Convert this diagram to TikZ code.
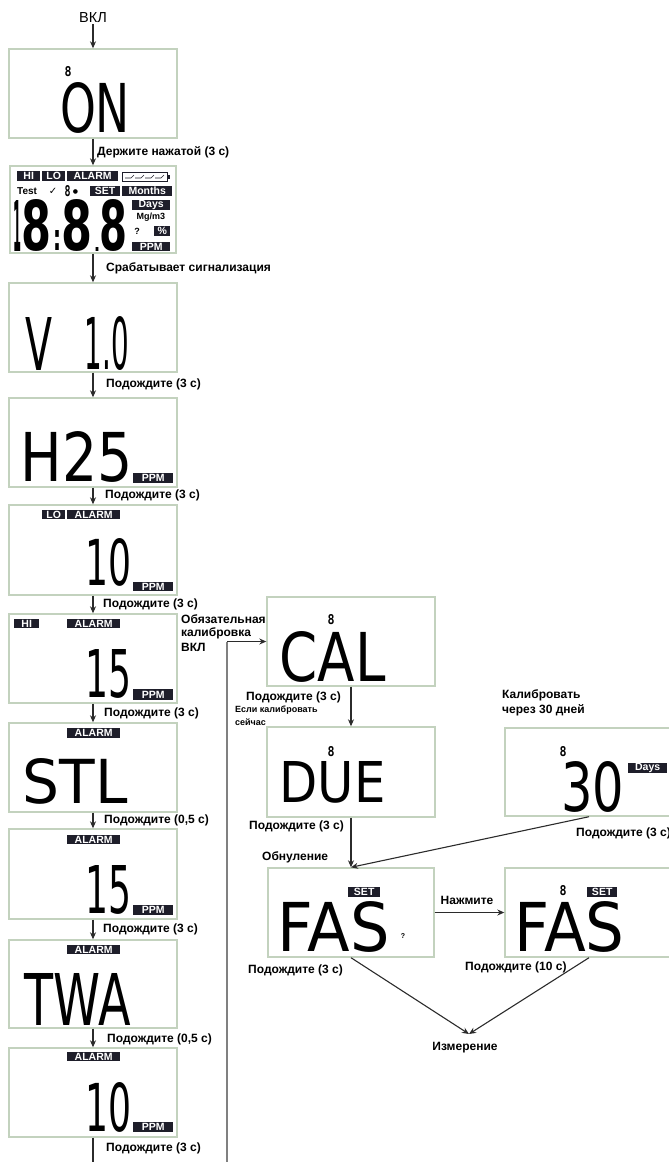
\documentclass[tikz,border=0pt]{standalone}
\usepackage{fontspec}
\usepackage{graphicx}
\setmainfont{Liberation Sans}
\newfontfamily\lcdf{DejaVu Sans}
\newfontfamily\lcdm{DejaVu Sans Mono}
\newfontfamily\djv{DejaVu Sans}
\usetikzlibrary{arrows.meta}
\definecolor{boxc}{HTML}{C3D2BE}
\definecolor{tagc}{HTML}{1E1E2A}
\definecolor{linec}{HTML}{2B2B2B}
\tikzset{
 lcdbox/.style={draw=boxc, line width=1.4pt, fill=white, inner sep=0},
 tagbox/.style={fill=tagc, text=white, font=\bfseries\fontsize{10.5}{10.5}\selectfont, inner sep=0},
 lbl/.style={font=\bfseries\fontsize{12}{12}\selectfont, inner sep=0, anchor=west, text=black},
 sml/.style={font=\bfseries\fontsize{9}{10}\selectfont, inner sep=0, anchor=west},
 conn/.style={draw=linec, line width=1.1pt, -{Stealth[length=7pt,width=6pt]}},
 plain/.style={draw=linec, line width=1.1pt},
 glyph/.style={inner sep=0, text=black},
}
\newcommand\lcdtag[6]{\node[tagbox,anchor=north west,minimum width=#4pt,minimum height=#5pt] (#1) at (#2,#3) {#6};}
\newcommand\lcdglyph[6]{\node[glyph] (#1) at (#2,#3) {\resizebox{#4pt}{#5pt}{\lcdf #6}};}
\newcommand\lcdheavy[6]{\node[glyph] (#1) at (#2,#3) {\resizebox{#4pt}{#5pt}{\lcdf\bfseries #6}};}
\newcommand\lcdbold[6]{\node[glyph] (#1) at (#2,#3) {\resizebox{#4pt}{#5pt}{\lcdm\bfseries #6}};}
\begin{document}
\begin{tikzpicture}[x=1pt,y=-1pt]
\useasboundingbox (0,0) rectangle (669,1162);
% ---------- boxes
\node[lcdbox,minimum width=168pt,minimum height=89pt] (b1) at (93,93.5) {};
\node[lcdbox,minimum width=166pt,minimum height=87pt] (b2) at (93,209.5) {};
\node[lcdbox,minimum width=168pt,minimum height=89pt] (b3) at (93,327.5) {};
\node[lcdbox,minimum width=168pt,minimum height=89pt] (b4) at (93,442.5) {};
\node[lcdbox,minimum width=168pt,minimum height=90pt] (b5) at (93,550) {};
\node[lcdbox,minimum width=168pt,minimum height=89pt] (b6) at (93,658.5) {};
\node[lcdbox,minimum width=168pt,minimum height=89pt] (b7) at (93,767.5) {};
\node[lcdbox,minimum width=168pt,minimum height=90pt] (b8) at (93,874) {};
\node[lcdbox,minimum width=168pt,minimum height=88pt] (b9) at (93,984) {};
\node[lcdbox,minimum width=168pt,minimum height=89pt] (b10) at (93,1092.5) {};
\node[lcdbox,minimum width=168pt,minimum height=89pt] (cal) at (351,641.5) {};
\node[lcdbox,minimum width=168pt,minimum height=90pt] (due) at (351,772) {};
\node[lcdbox,minimum width=168pt,minimum height=88pt] (d30) at (589,772) {};
\node[lcdbox,minimum width=166pt,minimum height=89pt] (fas1) at (351,912.5) {};
\node[lcdbox,minimum width=168pt,minimum height=89pt] (fas2) at (589,912.5) {};
% ---------- box 1
\lcdbold{s1}{68}{72}{7}{10}{8}
\lcdglyph{g1}{95}{108}{70}{50}{ON}
% ---------- box 2 (all segments)
\lcdtag{t2a}{17}{171}{23}{10}{HI}
\lcdtag{t2b}{42}{171}{23}{10}{LO}
\lcdtag{t2c}{67}{171}{51}{10}{ALARM}
\draw[line width=0.8pt, draw=tagc] (122,172) rectangle (167,181);
\fill[tagc] (167,174.5) rectangle (170,178.5);
\foreach \i in {0,1,2,3}{\draw[line width=0.6pt, draw=tagc] (125+10*\i,178) -- (131+10*\i,178) -- (134+10*\i,175);}
\node[font=\bfseries\fontsize{10}{10}\selectfont, inner sep=0, anchor=west] (t2test) at (17,191) {Test};
\node[font=\djv\fontsize{10}{10}\selectfont, inner sep=0] (t2chk) at (53,191) {✓};
\lcdbold{t2s}{67.5}{191.5}{6}{11}{8}
\node[font=\djv\fontsize{6}{6}\selectfont, inner sep=0] (t2dot) at (75.5,192) {●};
\lcdtag{t2d}{90}{186}{30}{10}{SET}
\lcdtag{t2e}{122}{186}{50}{10}{Months}
\lcdheavy{d21}{17.5}{225.5}{8}{51}{1}
\lcdheavy{d22}{37}{225.5}{30}{51}{8}
\lcdheavy{d2c}{57}{240}{8}{20}{:}
\lcdheavy{d2p}{97}{249}{6}{4}{.}
\lcdheavy{d23}{77.5}{225.5}{31}{51}{8}
\lcdheavy{d24}{114}{225.5}{28}{51}{8}
\lcdtag{t2f}{132}{200}{38}{10}{Days}
\node[font=\bfseries\fontsize{9}{9}\selectfont, inner sep=0] (t2mg) at (151,217.5) {Mg/m3};
\node[font=\bfseries\fontsize{9}{9}\selectfont, inner sep=0] (t2q) at (137,231.5) {?};
\lcdtag{t2g}{154}{226}{16}{10}{\%}
\lcdtag{t2h}{132}{242}{38}{9}{PPM}
% ---------- box 3
\lcdglyph{g3a}{39.5}{343.5}{27}{53}{V}
\lcdglyph{g3b}{107}{343.5}{44}{53}{1.0}
% ---------- box 4
\lcdglyph{g4}{76.5}{457}{112}{50}{H25}
\lcdtag{t4}{133}{473}{40}{10}{PPM}
% ---------- box 5
\lcdtag{t5a}{42}{510}{23}{9}{LO}
\lcdtag{t5b}{67}{510}{53}{9}{ALARM}
\lcdglyph{g5}{109}{562.5}{46}{47}{10}
\lcdtag{t5c}{133}{582}{40}{9}{PPM}
% ---------- box 6
\lcdtag{t6a}{14}{619}{25}{9}{HI}
\lcdtag{t6b}{67}{619}{53}{9}{ALARM}
\lcdglyph{g6}{109}{674}{46}{48}{15}
\lcdtag{t6c}{133}{689}{40}{11}{PPM}
% ---------- box 7
\lcdtag{t7}{67}{728}{53}{10}{ALARM}
\lcdglyph{g7}{75}{781.5}{105}{45}{STL}
% ---------- box 8
\lcdtag{t8a}{67}{835}{53}{9}{ALARM}
\lcdglyph{g8}{109}{890}{46}{48}{15}
\lcdtag{t8b}{133}{905}{40}{10}{PPM}
% ---------- box 9
\lcdtag{t9}{67}{945}{53}{9}{ALARM}
\lcdglyph{g9}{77.5}{999}{106}{52}{TWA}
% ---------- box 10
\lcdtag{t10a}{67}{1052}{53}{9}{ALARM}
\lcdglyph{g10}{109}{1107.5}{46}{49}{10}
\lcdtag{t10b}{133}{1122}{40}{10}{PPM}
% ---------- right boxes
\lcdbold{scal}{331}{620}{7}{10}{8}
\lcdglyph{gcal}{332.5}{657}{106}{50}{CAL}
\lcdbold{sdue}{331}{752}{7}{10}{8}
\lcdglyph{gdue}{332.5}{782.5}{106}{41}{DUE}
\lcdbold{s30}{563}{752}{7}{10}{8}
\lcdglyph{g30}{592.5}{787}{63}{50}{30}
\lcdtag{t30}{628}{763}{39}{9}{Days}
\lcdtag{tf1}{348}{887}{32}{10}{SET}
\lcdglyph{gf1}{333.5}{927}{112}{50}{FAS}
\node[font=\bfseries\fontsize{7}{7}\selectfont, inner sep=0] (qf1) at (403,936) {?};
\lcdbold{sf2}{563}{891}{7}{10}{8}
\lcdtag{tf2}{587}{887}{30}{10}{SET}
\lcdglyph{gf2}{569.5}{927}{110}{50}{FAS}
% ---------- labels
\node[font=\fontsize{14.5}{14.5}\selectfont, inner sep=1pt] (von) at (93,18) {ВКЛ};
\node[lbl] (l1) at (97,152) {Держите нажатой (3 с)};
\node[lbl] (l2) at (106,268) {Срабатывает сигнализация};
\node[lbl] (l3) at (106,384) {Подождите (3 с)};
\node[lbl] (l4) at (105,495) {Подождите (3 с)};
\node[lbl] (l5) at (103,604) {Подождите (3 с)};
\node[lbl] (l6) at (104,713) {Подождите (3 с)};
\node[lbl] (l7) at (104,820) {Подождите (0,5 с)};
\node[lbl] (l8) at (103,929) {Подождите (3 с)};
\node[lbl] (l9) at (107,1039) {Подождите (0,5 с)};
\node[lbl] (l10) at (106,1148) {Подождите (3 с)};
\node[lbl] (ob1) at (181,619) {Обязательная};
\node[lbl] (ob2) at (181,633) {калибровка};
\node[lbl] (ob3) at (181,647) {ВКЛ};
\node[lbl] (cw) at (246,697) {Подождите (3 с)};
\node[sml] (es1) at (235,710) {Если калибровать};
\node[sml] (es2) at (235,722) {сейчас};
\node[lbl] (dw) at (249,826) {Подождите (3 с)};
\node[lbl] (k1) at (502,695) {Калибровать};
\node[lbl] (k2) at (502,710) {через 30 дней};
\node[lbl] (tw) at (576,833) {Подождите (3 с)};
\node[lbl] (obn) at (262,857) {Обнуление};
\node[lbl,anchor=center] (nazh) at (467,900) {Нажмите};
\node[lbl] (fw1) at (248,970) {Подождите (3 с)};
\node[lbl] (fw2) at (465,967) {Подождите (10 с)};
\node[lbl,anchor=center] (meas) at (465,1048) {Измерение};
% ---------- connectors
\draw[conn] (von) -- (b1);
\foreach \a/\b in {b1/b2,b2/b3,b3/b4,b4/b5,b5/b6,b6/b7,b7/b8,b8/b9,b9/b10}{\draw[conn] (\a.south) -- (\b.north);}
\coordinate (bl) at (93,1162);
\draw[plain] (b10.south) -- (bl);
\coordinate (lb) at (227,1162);
\draw[draw=gray, line width=1.8pt] (lb) -- (lb |- cal.west);
\draw[conn] (lb |- cal.west) -- (cal.west);
\draw[conn] (cal) -- (due);
\draw[conn] (due) -- (fas1);
\draw[conn] (d30.south) -- (fas1.north);
\draw[conn] (fas1) -- (fas2);
\coordinate (mt) at (469,1034);
\draw[conn] (fas1.south) -- (mt);
\draw[conn] (fas2.south) -- (mt);
\end{tikzpicture}
\end{document}
